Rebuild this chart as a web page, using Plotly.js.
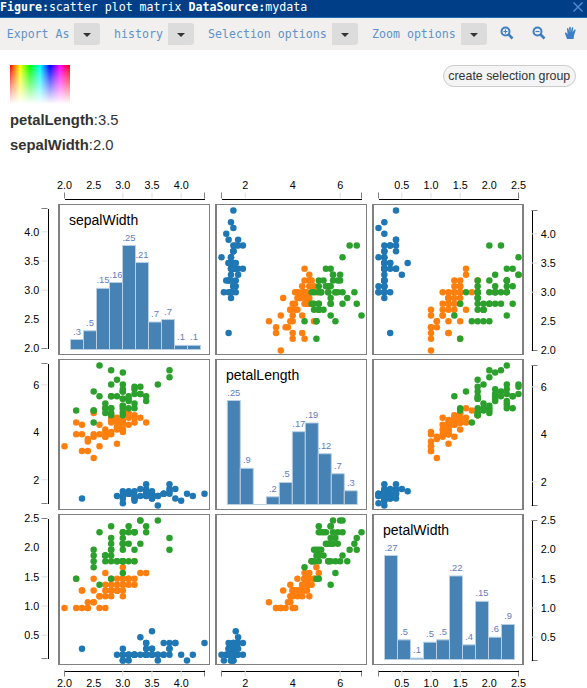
<!DOCTYPE html>
<html><head><meta charset="utf-8">
<script src="https://cdn.plot.ly/plotly-3.0.1.min.js"></script>
<style>
html,body{margin:0;padding:0;width:587px;height:688px;overflow:hidden;background:#fff}
#chart{position:absolute;left:0;top:0;width:587px;height:688px}
.h{position:absolute;white-space:nowrap}
.mono{font-family:"DejaVu Sans Mono",monospace;font-size:11.6px}
#bar{left:0;top:0;width:587px;height:17px;background:#003f87;border-bottom:1px solid #1b6fb9;color:#fff;line-height:14px}
#tool{left:0;top:18px;width:587px;height:32px;background:#f1f0ef}
.lbl{top:27px;color:#5f92c8;line-height:14px}
.box{top:23px;height:22px;background:#dcdcdc;border-radius:0 3px 3px 0}
.box:after{content:"";position:absolute;left:50%;top:10px;margin-left:-4px;border-left:4px solid transparent;border-right:4px solid transparent;border-top:4px solid #333}
#grad{left:10px;top:65px;width:60px;height:39px;background:linear-gradient(to bottom,rgba(255,255,255,0),#fff),linear-gradient(to right,#f00,#ff0,#0f0,#0ff,#00f,#f0f,#f00)}
#btn{left:442.5px;top:65px;width:131.5px;height:20px;border:1px solid #ccc;border-radius:11px;background:#f4f4f4;color:#333;font:12.4px "Liberation Sans",Arial,sans-serif;line-height:20px;text-align:center}
.info{left:10px;font:14.8px "Liberation Sans",Arial,sans-serif;color:#333;line-height:18px}
</style></head><body>
<div id="chart"></div>
<div class="h mono" id="bar"><b>Figure:</b>scatter plot matrix <b>DataSource:</b>mydata</div>
<svg class="h" style="left:572px;top:1px" width="12" height="12"><path d="M1.5 1.5L10.5 10.5M10.5 1.5L1.5 10.5" stroke="#4d8fd6" stroke-width="1.4"/></svg>
<div class="h" id="tool"></div>
<div class="h mono lbl" style="left:6.7px">Export As</div><div class="h box" style="left:74px;width:26px"></div>
<div class="h mono lbl" style="left:114px">history</div><div class="h box" style="left:168px;width:26px"></div>
<div class="h mono lbl" style="left:208px">Selection options</div><div class="h box" style="left:332px;width:26px"></div>
<div class="h mono lbl" style="left:372px">Zoom options</div><div class="h box" style="left:461px;width:26px"></div>
<svg class="h" style="left:500px;top:26px" width="14" height="14"><circle cx="5.5" cy="5.5" r="4" fill="none" stroke="#3c7fc4" stroke-width="2"/><path d="M8.5 8.5L12.5 12.5" stroke="#3c7fc4" stroke-width="2.6"/><path d="M3.5 5.5H7.5M5.5 3.5V7.5" stroke="#3c7fc4" stroke-width="1.2"/></svg>
<svg class="h" style="left:532px;top:26px" width="14" height="14"><circle cx="5.5" cy="5.5" r="4" fill="none" stroke="#3c7fc4" stroke-width="2"/><path d="M8.5 8.5L12.5 12.5" stroke="#3c7fc4" stroke-width="2.6"/><path d="M3.5 5.5H7.5" stroke="#3c7fc4" stroke-width="1.2"/></svg>
<svg class="h" style="left:564px;top:26px" width="14" height="14"><path d="M3 13L1 7.5C0.6 6.4 2 6 2.6 7L3.6 8.4L3 2.8C3 1.8 4.3 1.8 4.5 2.8L5.2 6V1.4C5.2 0.4 6.8 0.4 6.8 1.4V6L7.8 1.9C8 1 9.4 1.2 9.2 2.2L8.6 6.6L10.2 3.8C10.7 3 12 3.5 11.6 4.5L10 9.5L9.6 13Z" fill="#3c7fc4"/></svg>
<div class="h" id="grad"></div>
<div class="h" id="btn">create selection group</div>
<div class="h info" style="top:111px"><b>petalLength</b>:3.5</div>
<div class="h info" style="top:136px"><b>sepalWidth</b>:2.0</div>
<script>
// Iris measurements per species
const setosaSepalWidth=[3.5,3.0,3.2,3.1,3.6,3.9,3.4,3.4,2.9,3.1,3.7,3.4,3.0,3.0,4.0,4.4,3.9,3.5,3.8,3.8,3.4,3.7,3.6,3.3,3.4,3.0,3.4,3.5,3.4,3.2,3.1,3.4,4.1,4.2,3.1,3.2,3.5,3.6,3.0,3.4,3.5,2.3,3.2,3.5,3.8,3.0,3.8,3.2,3.7,3.3];
const setosaPetalLength=[1.4,1.4,1.3,1.5,1.4,1.7,1.4,1.5,1.4,1.5,1.5,1.6,1.4,1.1,1.2,1.5,1.3,1.4,1.7,1.5,1.7,1.5,1.0,1.7,1.9,1.6,1.6,1.5,1.4,1.6,1.6,1.5,1.5,1.4,1.5,1.2,1.3,1.4,1.3,1.5,1.3,1.3,1.3,1.6,1.9,1.4,1.6,1.4,1.5,1.4];
const setosaPetalWidth=[0.2,0.2,0.2,0.2,0.2,0.4,0.3,0.2,0.2,0.1,0.2,0.2,0.1,0.1,0.2,0.4,0.4,0.3,0.3,0.3,0.2,0.4,0.2,0.5,0.2,0.2,0.4,0.2,0.2,0.2,0.2,0.4,0.1,0.2,0.2,0.2,0.2,0.1,0.2,0.2,0.3,0.3,0.2,0.6,0.4,0.3,0.2,0.2,0.2,0.2];
const versicolorSepalWidth=[3.2,3.2,3.1,2.3,2.8,2.8,3.3,2.4,2.9,2.7,2.0,3.0,2.2,2.9,2.9,3.1,3.0,2.7,2.2,2.5,3.2,2.8,2.5,2.8,2.9,3.0,2.8,3.0,2.9,2.6,2.4,2.4,2.7,2.7,3.0,3.4,3.1,2.3,3.0,2.5,2.6,3.0,2.6,2.3,2.7,3.0,2.9,2.9,2.5,2.8];
const versicolorPetalLength=[4.7,4.5,4.9,4.0,4.6,4.5,4.7,3.3,4.6,3.9,3.5,4.2,4.0,4.7,3.6,4.4,4.5,4.1,4.5,3.9,4.8,4.0,4.9,4.7,4.3,4.4,4.8,5.0,4.5,3.5,3.8,3.7,3.9,5.1,4.5,4.5,4.7,4.4,4.1,4.0,4.4,4.6,4.0,3.3,4.2,4.2,4.2,4.3,3.0,4.1];
const versicolorPetalWidth=[1.4,1.5,1.5,1.3,1.5,1.3,1.6,1.0,1.3,1.4,1.0,1.5,1.0,1.4,1.3,1.4,1.5,1.0,1.5,1.1,1.8,1.3,1.5,1.2,1.3,1.4,1.4,1.7,1.5,1.0,1.1,1.0,1.2,1.6,1.5,1.6,1.5,1.3,1.3,1.3,1.2,1.4,1.2,1.0,1.3,1.2,1.3,1.3,1.1,1.3];
const virginicaSepalWidth=[3.3,2.7,3.0,2.9,3.0,3.0,2.5,2.9,2.5,3.6,3.2,2.7,3.0,2.5,2.8,3.2,3.0,3.8,2.6,2.2,3.2,2.8,2.8,2.7,3.3,3.2,2.8,3.0,2.8,3.0,2.8,3.8,2.8,2.8,2.6,3.0,3.4,3.1,3.0,3.1,3.1,3.1,2.7,3.2,3.3,3.0,2.5,3.0,3.4,3.0];
const virginicaPetalLength=[6.0,5.1,5.9,5.6,5.8,6.6,4.5,6.3,5.8,6.1,5.1,5.3,5.5,5.0,5.1,5.3,5.5,6.7,6.9,5.0,5.7,4.9,6.7,4.9,5.7,6.0,4.8,4.9,5.6,5.8,6.1,6.4,5.6,5.1,5.6,6.1,5.6,5.5,4.8,5.4,5.6,5.1,5.1,5.9,5.7,5.2,5.0,5.2,5.4,5.1];
const virginicaPetalWidth=[2.5,1.9,2.1,1.8,2.2,2.1,1.7,1.8,1.8,2.5,2.0,1.9,2.1,2.0,2.4,2.3,1.8,2.2,2.3,1.5,2.3,2.0,2.0,1.8,2.1,1.8,1.8,1.8,2.1,1.6,1.9,2.0,2.2,1.5,1.4,2.3,2.4,1.8,1.8,2.1,2.4,2.3,1.9,2.3,2.5,2.3,1.9,2.0,2.3,1.8];
const histSepalWidth=[2.4,4.5,14.7,16.1,25,20.9,6.6,7.2,1,1];
const histPetalLength=[25,8.7,0,1.85,5.3,17.5,19.6,12.2,7.4,3.3];
const histPetalWidth=[27,5.1,0.35,4.5,5.1,21.7,3.8,15.1,5.8,9.1];
const labelsSepalWidth=[".3",".5",".15",".16",".25",".21",".7",".7",".1",".1"];
const labelsPetalLength=[".25",".9","",".2",".5",".17",".19",".12",".7",".3"];
const labelsPetalWidth=[".27",".5",".1",".5",".5",".22",".4",".15",".6",".9"];
const dimNames=["sepalWidth","petalLength","petalWidth"];
const ticksSepalWidth=[2.0,2.5,3.0,3.5,4.0];
const textSepalWidth=["2.0","2.5","3.0","3.5","4.0"];
const ticksPetalLength=[2,4,6];
const textPetalLength=["2","4","6"];
const ticksPetalWidth=[0.5,1.0,1.5,2.0,2.5];
const textPetalWidth=["0.5","1.0","1.5","2.0","2.5"];
const drawnTickMarks=[[3.0,3.5,4.0],[2,6],[0.5,1.0,1.5]];
const extents=[[2.0,4.4],[1.0,6.9],[0.1,2.5]];

const W=587,H=688,SPAN=140,PW=149;
const panelLeft=[59.5,216.5,373.5], panelTop=[205,360,515];
const dataLeft=[64.5,221.5,378.5], dataTop=[210.5,365.5,520.5];
const leftAxisTop=[208.5,363.5,518.5];
const barLeft=[70.5,227.3,384.5], barBase=[349.5,504.5,659.5];
const BINW=13, BARMAX=104;
const colors=["#1f77b4","#ff7f0e","#2ca02c"];
const species=[
 [setosaSepalWidth,setosaPetalLength,setosaPetalWidth],
 [versicolorSepalWidth,versicolorPetalLength,versicolorPetalWidth],
 [virginicaSepalWidth,virginicaPetalLength,virginicaPetalWidth]];
const hists=[histSepalWidth,histPetalLength,histPetalWidth];
const hlabels=[labelsSepalWidth,labelsPetalLength,labelsPetalWidth];
const tvals=[ticksSepalWidth,ticksPetalLength,ticksPetalWidth];
const ttext=[textSepalWidth,textPetalLength,textPetalWidth];

const fx=p=>p/W, fy=p=>1-p/H;
const tickFont={family:'"Liberation Sans",Arial,sans-serif',size:10.8,color:'#000'};
const layout={width:W,height:H,margin:{l:0,r:0,t:0,b:0,pad:0},autosize:false,showlegend:false,
 paper_bgcolor:'rgba(0,0,0,0)',plot_bgcolor:'rgba(0,0,0,0)',bargap:0,shapes:[],annotations:[],
 font:{family:'"Liberation Sans",Arial,sans-serif'}};
const traces=[];
const inner={showline:true,mirror:true,linecolor:'#808080',linewidth:1.4,showgrid:false,zeroline:false,showticklabels:false,ticks:'',fixedrange:true};

for(let r=0;r<3;r++)for(let c=0;c<3;c++){
  const id=r*3+c+1;
  const xa=Object.assign({},inner,{anchor:'y'+id,domain:[fx(panelLeft[c]),fx(panelLeft[c]+PW)]});
  const ya=Object.assign({},inner,{anchor:'x'+id,domain:[fy(panelTop[r]+PW),fy(panelTop[r])]});
  if(r===c){
    const s=BARMAX/Math.max(...hists[c]);
    const l=-0.5-(barLeft[c]-panelLeft[c])/BINW;
    xa.range=[l,l+PW/BINW];
    const bot=-(panelTop[r]+PW-barBase[r])/s;
    ya.range=[bot,bot+PW/s];
    traces.push({type:'bar',xaxis:'x'+id,yaxis:'y'+id,x:hists[c].map((_,i)=>i),y:hists[c],text:hlabels[c],
      textposition:'outside',textangle:0,constraintext:'none',cliponaxis:false,hoverinfo:'skip',
      textfont:{family:'"Liberation Sans",Arial,sans-serif',size:9.4,color:'#5f7cbd'},
      marker:{color:'#4682b4',line:{color:'#b8cfe4',width:1}}});
    layout.annotations.push({xref:'paper',yref:'paper',x:fx(panelLeft[c]+7.7),y:fy(panelTop[r]+15.3),xanchor:'left',yanchor:'middle',
      showarrow:false,text:dimNames[c],font:{family:'"Liberation Sans",Arial,sans-serif',size:14,color:'#000'}});
  }else{
    const ux=(extents[c][1]-extents[c][0])/SPAN, uy=(extents[r][1]-extents[r][0])/SPAN;
    const x0=extents[c][0]-(dataLeft[c]-panelLeft[c])*ux;
    xa.range=[x0,x0+PW*ux];
    const y1=extents[r][1]+(dataTop[r]-panelTop[r])*uy;
    ya.range=[y1-PW*uy,y1];
    species.forEach((sp,k)=>traces.push({type:'scatter',mode:'markers',xaxis:'x'+id,yaxis:'y'+id,x:sp[c],y:sp[r],
      cliponaxis:false,hoverinfo:'skip',marker:{color:colors[k],size:6.5,line:{width:0}}}));
  }
  layout['xaxis'+id]=xa; layout['yaxis'+id]=ya;
}
// The right edge of the last column is drawn heavier
panelTop.forEach(t=>layout.shapes.push({type:'line',xref:'paper',yref:'paper',x0:fx(523),x1:fx(523),y0:fy(t),y1:fy(t+PW),line:{color:'#808080',width:2}}));

// Detached outer axes
let nx=10,ny=10;
function capsAndTicks(letter,axid,vals,line,dir,ext){
  const shp=(v,a,b,col)=>letter==='x'
    ?{type:'line',xref:axid,yref:'paper',x0:v,x1:v,y0:fy(a),y1:fy(b),line:{color:col,width:1}}
    :{type:'line',yref:axid,xref:'paper',y0:v,y1:v,x0:fx(a),x1:fx(b),line:{color:col,width:1}};
  vals.forEach(v=>layout.shapes.push(shp(v,line,line+dir*6,'#ddd')));
  ext.forEach(v=>layout.shapes.push(shp(v,line,line+dir*6,'#000')));
}
function outerX(c,side,ypx,standoff){
  const n=nx++; const id='x'+n;
  layout['xaxis'+n]={domain:[fx(dataLeft[c]),fx(dataLeft[c]+SPAN)],range:extents[c],anchor:'free',position:fy(ypx),side:side,
    showline:true,linecolor:'#000',linewidth:1,showgrid:false,zeroline:false,ticks:'',tickmode:'array',tickvals:tvals[c],ticktext:ttext[c],
    tickfont:tickFont,ticklabelstandoff:standoff,fixedrange:true};
  capsAndTicks('x',id,drawnTickMarks[c],ypx,side==='top'?-1:1,extents[c]);
}
function outerY(r,side,xpx,topPx){
  const n=ny++; const id='y'+n;
  layout['yaxis'+n]={domain:[fy(topPx+SPAN),fy(topPx)],range:extents[r],anchor:'free',position:fx(xpx),side:side,
    showline:true,linecolor:'#000',linewidth:1,showgrid:false,zeroline:false,ticks:'',tickmode:'array',tickvals:tvals[r],ticktext:ttext[r],
    tickfont:tickFont,ticklabelstandoff:6,fixedrange:true};
  capsAndTicks('y',id,drawnTickMarks[r],xpx,side==='left'?-1:1,extents[r]);
}
for(let c=0;c<3;c++){outerX(c,'top',198.5,5);outerX(c,'bottom',670.5,3);}
for(let r=0;r<3;r++){outerY(r,'left',47.5,leftAxisTop[r]);outerY(r,'right',531.5,dataTop[r]);}

Plotly.newPlot('chart',traces,layout,{displayModeBar:false,staticPlot:true});
</script>
</body></html>
